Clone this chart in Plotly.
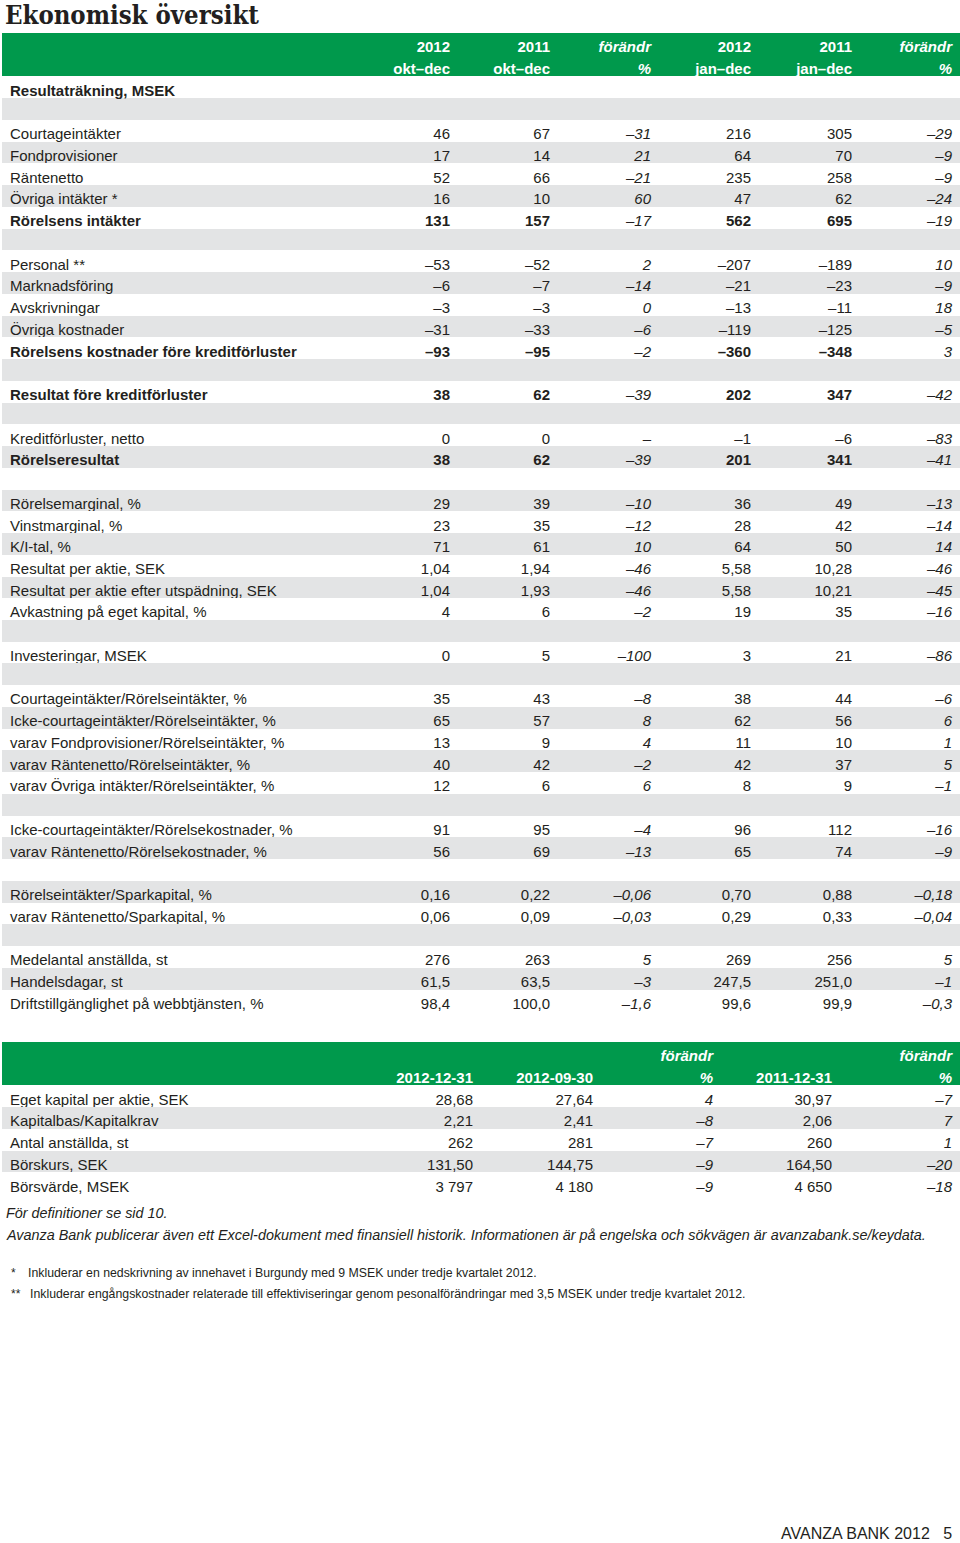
import plotly.graph_objects as go

W, H = 960, 1543
GREEN = "#00994c"
GRAY = "#e3e4e5"
INK = "#231f20"
CLEAR = "rgba(0,0,0,0)"
ROW_H = 21.74
FONT = "Liberation Sans, Arial, sans-serif"

# --- Resultaträkning ---
col_head_1 = ["", "2012", "2011", "förändr", "2012", "2011", "förändr"]
col_head_2 = ["", "okt–dec", "okt–dec", "%", "jan–dec", "jan–dec", "%"]

row_labels = [
    "Resultaträkning, MSEK", "",
    "Courtageintäkter", "Fondprovisioner", "Räntenetto", "Övriga intäkter *", "Rörelsens intäkter", "",
    "Personal **", "Marknadsföring", "Avskrivningar", "Övriga kostnader",
    "Rörelsens kostnader före kreditförluster", "",
    "Resultat före kreditförluster", "",
    "Kreditförluster, netto", "Rörelseresultat", "",
    "Rörelsemarginal, %", "Vinstmarginal, %", "K/I-tal, %", "Resultat per aktie, SEK",
    "Resultat per aktie efter utspädning, SEK", "Avkastning på eget kapital, %", "",
    "Investeringar, MSEK", "",
    "Courtageintäkter/Rörelseintäkter, %", "Icke-courtageintäkter/Rörelseintäkter, %",
    "varav Fondprovisioner/Rörelseintäkter, %", "varav Räntenetto/Rörelseintäkter, %",
    "varav Övriga intäkter/Rörelseintäkter, %", "",
    "Icke-courtageintäkter/Rörelsekostnader, %", "varav Räntenetto/Rörelsekostnader, %", "",
    "Rörelseintäkter/Sparkapital, %", "varav Räntenetto/Sparkapital, %", "",
    "Medelantal anställda, st", "Handelsdagar, st", "Driftstillgänglighet på webbtjänsten, %",
]
q4_2012 = ["", "", "46", "17", "52", "16", "131", "", "–53", "–6", "–3", "–31", "–93", "",
           "38", "", "0", "38", "", "29", "23", "71", "1,04", "1,04", "4", "", "0", "",
           "35", "65", "13", "40", "12", "", "91", "56", "", "0,16", "0,06", "",
           "276", "61,5", "98,4"]
q4_2011 = ["", "", "67", "14", "66", "10", "157", "", "–52", "–7", "–3", "–33", "–95", "",
           "62", "", "0", "62", "", "39", "35", "61", "1,94", "1,93", "6", "", "5", "",
           "43", "57", "9", "42", "6", "", "95", "69", "", "0,22", "0,09", "",
           "263", "63,5", "100,0"]
q4_chg = ["", "", "–31", "21", "–21", "60", "–17", "", "2", "–14", "0", "–6", "–2", "",
          "–39", "", "–", "–39", "", "–10", "–12", "10", "–46", "–46", "–2", "", "–100", "",
          "–8", "8", "4", "–2", "6", "", "–4", "–13", "", "–0,06", "–0,03", "",
          "5", "–3", "–1,6"]
fy_2012 = ["", "", "216", "64", "235", "47", "562", "", "–207", "–21", "–13", "–119", "–360", "",
           "202", "", "–1", "201", "", "36", "28", "64", "5,58", "5,58", "19", "", "3", "",
           "38", "62", "11", "42", "8", "", "96", "65", "", "0,70", "0,29", "",
           "269", "247,5", "99,6"]
fy_2011 = ["", "", "305", "70", "258", "62", "695", "", "–189", "–23", "–11", "–125", "–348", "",
           "347", "", "–6", "341", "", "49", "42", "50", "10,28", "10,21", "35", "", "21", "",
           "44", "56", "10", "37", "9", "", "112", "74", "", "0,88", "0,33", "",
           "256", "251,0", "99,9"]
fy_chg = ["", "", "–29", "–9", "–9", "–24", "–19", "", "10", "–9", "18", "–5", "3", "",
          "–42", "", "–83", "–41", "", "–13", "–14", "14", "–46", "–45", "–16", "", "–86", "",
          "–6", "6", "1", "5", "–1", "", "–16", "–9", "", "–0,18", "–0,04", "",
          "5", "–1", "–0,3"]
bold_rows = ["Resultaträkning, MSEK", "Rörelsens intäkter",
             "Rörelsens kostnader före kreditförluster",
             "Resultat före kreditförluster", "Rörelseresultat"]

# --- Balans / nyckeltal ---
bal_head_1 = ["", "", "", "förändr", "", "förändr"]
bal_head_2 = ["", "2012-12-31", "2012-09-30", "%", "2011-12-31", "%"]
bal_labels = ["Eget kapital per aktie, SEK", "Kapitalbas/Kapitalkrav", "Antal anställda, st",
              "Börskurs, SEK", "Börsvärde, MSEK"]
bal_dec12 = ["28,68", "2,21", "262", "131,50", "3 797"]
bal_sep12 = ["27,64", "2,41", "281", "144,75", "4 180"]
bal_chg_q = ["4", "–8", "–7", "–9", "–9"]
bal_dec11 = ["30,97", "2,06", "260", "164,50", "4 650"]
bal_chg_y = ["–7", "7", "1", "–20", "–18"]


def nb(s):
    # non-breaking spaces keep plotly from wrapping / growing rows
    return s.replace(" ", "\u00a0")


def py(px):
    return 1 - px / H


def add_table(fig, head1, head2, columns, italic_cols, bold_flags, widths, top, bottom):
    n = len(columns[0])
    ncol = len(columns)
    fills = [GREEN] + [("white" if i % 2 == 0 else GRAY) for i in range(n)]
    colors = ["white"] + [INK] * n
    styles = ["italic" if c in italic_cols else "normal" for c in range(ncol)]
    align = ["left"] + ["right"] * (ncol - 1)
    domain = dict(x=[2 / W, 1], y=[py(bottom), py(top)])

    plain, heavy = [], []
    for c, col in enumerate(columns):
        full = [nb(head2[c])] + [nb(v) for v in col]
        is_bold = [True] + [b and c not in italic_cols for b in bold_flags]
        plain.append(["" if b else v for v, b in zip(full, is_bold)])
        heavy.append([v if b else "" for v, b in zip(full, is_bold)])

    # base table: fills and regular text
    fig.add_trace(go.Table(
        domain=domain, columnwidth=widths,
        header=dict(values=[nb(h) for h in head1], fill_color=GREEN,
                    line=dict(width=0, color=GREEN), align=align, height=ROW_H,
                    font=dict(family=FONT, size=15, color="white", weight="bold", style=styles)),
        cells=dict(values=plain, fill_color=[fills] * ncol,
                   line=dict(width=0, color=[fills] * ncol), align=align, height=ROW_H,
                   font=dict(family=FONT, size=15, color=[colors] * ncol, style=styles)),
    ))
    # overlay: bold text only
    fig.add_trace(go.Table(
        domain=domain, columnwidth=widths,
        header=dict(values=[""] * ncol, fill_color=CLEAR, line=dict(width=0, color=CLEAR),
                    height=ROW_H),
        cells=dict(values=heavy, fill_color=CLEAR, line=dict(width=0, color=CLEAR),
                   align=align, height=ROW_H,
                   font=dict(family=FONT, size=15, color=[colors] * ncol, weight="bold",
                             style=styles)),
    ))


fig = go.Figure()

add_table(fig, col_head_1, col_head_2,
          [row_labels, q4_2012, q4_2011, q4_chg, fy_2012, fy_2011, fy_chg],
          {3, 6}, [lab in bold_rows for lab in row_labels],
          [356, 100, 100, 101, 100, 101, 100], 33, 1022)

add_table(fig, bal_head_1, bal_head_2,
          [bal_labels, bal_dec12, bal_sep12, bal_chg_q, bal_dec11, bal_chg_y],
          {3, 5}, [False] * len(bal_labels),
          [359, 120, 120, 120, 119, 120], 1042, 1205)

notes = [
    ("<i>För definitioner se sid 10.</i>", 1213),
    ("<i>Avanza Bank publicerar även ett Excel-dokument med finansiell historik. "
     "Informationen är på engelska och sökvägen är avanzabank.se/keydata.</i>", 1235),
]
for text, y in notes:
    fig.add_annotation(text=text, x=4 / W, y=py(y), xref="paper", yref="paper",
                       xanchor="left", yanchor="middle", showarrow=False,
                       font=dict(family=FONT, size=14.4, color=INK))

footnotes = [
    ("*", "Inkluderar en nedskrivning av innehavet i Burgundy med 9 MSEK under tredje kvartalet 2012.", 1273, 27),
    ("**", "Inkluderar engångskostnader relaterade till effektiviseringar genom pesonalförändringar "
           "med 3,5 MSEK under tredje kvartalet 2012.", 1294, 29),
]
NARROW = "Liberation Sans Narrow, Arial Narrow, Liberation Sans, sans-serif"
for mark, text, y, x in footnotes:
    fig.add_annotation(text=mark, x=9 / W, y=py(y), xref="paper", yref="paper",
                       xanchor="left", yanchor="middle", showarrow=False,
                       font=dict(family=NARROW, size=12, color=INK))
    fig.add_annotation(text=text, x=(x - 1) / W, y=py(y), xref="paper", yref="paper",
                       xanchor="left", yanchor="middle", showarrow=False,
                       font=dict(family=NARROW, size=12.3, color=INK))

fig.add_annotation(text="Ekonomisk översikt", x=3 / W, y=py(15), xref="paper", yref="paper",
                   xanchor="left", yanchor="middle", showarrow=False,
                   font=dict(family="DejaVu Serif Condensed, DejaVu Serif, serif", size=25.5,
                             color=INK, weight="bold"))

fig.add_annotation(text="AVANZA BANK 2012\u00a0\u00a0\u00a05", x=954 / W, y=py(1533),
                   xref="paper", yref="paper", xanchor="right", yanchor="middle",
                   showarrow=False, font=dict(family=FONT, size=16, color=INK))

fig.update_layout(width=W, height=H, margin=dict(l=0, r=0, t=0, b=0),
                  paper_bgcolor="white", plot_bgcolor="white")

# drop the browser's default 8px body margin so the figure fills the window
fig.write_html("out.html", config={"displayModeBar": False},
               post_script="document.body.style.margin='0';")
